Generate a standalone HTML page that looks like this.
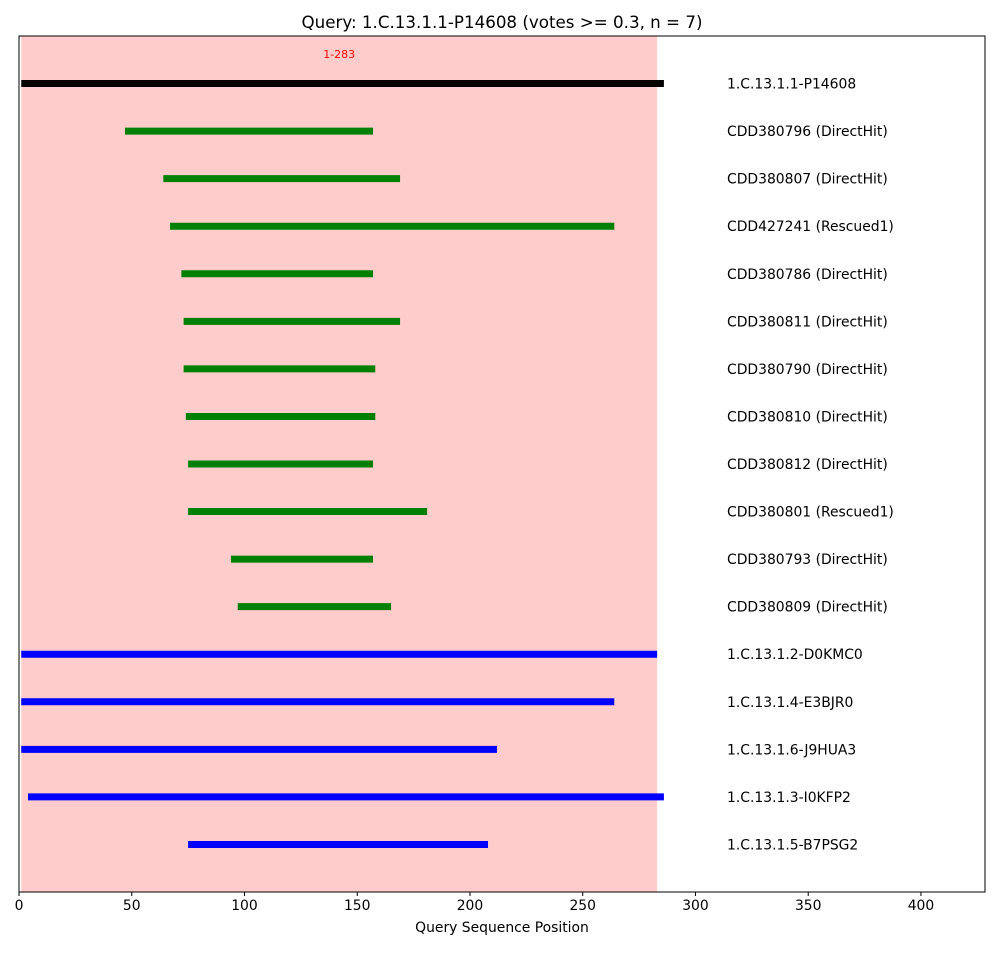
<!DOCTYPE html>
<html><head><meta charset="utf-8"><style>
body{margin:0;background:#fff;font-family:"DejaVu Sans","Liberation Sans",sans-serif;}
</style></head><body>
<svg id="chart" width="1000" height="950" xmlns="http://www.w3.org/2000/svg" font-family="DejaVu Sans, Liberation Sans, sans-serif"></svg>
<script>
const labels=["1.C.13.1.1-P14608","CDD380796 (DirectHit)","CDD380807 (DirectHit)","CDD427241 (Rescued1)","CDD380786 (DirectHit)","CDD380811 (DirectHit)","CDD380790 (DirectHit)","CDD380810 (DirectHit)","CDD380812 (DirectHit)","CDD380801 (Rescued1)","CDD380793 (DirectHit)","CDD380809 (DirectHit)","1.C.13.1.2-D0KMC0","1.C.13.1.4-E3BJR0","1.C.13.1.6-J9HUA3","1.C.13.1.3-I0KFP2","1.C.13.1.5-B7PSG2"];
const starts=[1,47,64,67,72,73,73,74,75,75,94,97,1,1,1,4,75];
const ends=[286,157,169,264,157,169,158,158,157,181,157,165,283,264,212,286,208];
const kinds=["query","cdd","cdd","cdd","cdd","cdd","cdd","cdd","cdd","cdd","cdd","cdd","hom","hom","hom","hom","hom"];
const region=[1,283];
const xTicks=[0,50,100,150,200,250,300,350,400];
const L=19,R=985,T=36,B=892,XMAX=428.4;
const xs=v=>L+v/XMAX*(R-L);
const ys=i=>T+(i+1)/18*(B-T);
const colors={query:"#000",cdd:"#008000",hom:"#0000ff"};
const svg=document.getElementById('chart');
const NS="http://www.w3.org/2000/svg";
function mk(t,a,txt){const e=document.createElementNS(NS,t);for(const k in a)e.setAttribute(k,a[k]);if(txt!=null)e.textContent=txt;svg.appendChild(e);return e;}
let e=mk('rect',{x:xs(region[0]),y:T,width:xs(region[1])-xs(region[0]),height:B-T,fill:"#ffcccc"});


e=mk('text',{x:xs((region[0]+region[1])/2),y:58,'font-size':11,fill:"red",'text-anchor':"middle"},region[0]+"-"+region[1]);


labels.forEach((lab,i)=>{
  let b=mk('line',{x1:xs(starts[i]),x2:xs(ends[i]),y1:ys(i),y2:ys(i),stroke:colors[kinds[i]],'stroke-width':7});
  
  
  let t=mk('text',{x:xs(314),y:ys(i)+5,'font-size':13.9,fill:"#000"},lab);
  
  
});
e=mk('rect',{x:L,y:T,width:R-L,height:B-T,fill:"none",stroke:"#000",'stroke-width':1});


xTicks.forEach(v=>{
  let l=mk('line',{x1:xs(v),x2:xs(v),y1:B,y2:B+4,stroke:"#000"});
  
  
  let t=mk('text',{x:xs(v),y:B+18,'font-size':13.9,'text-anchor':"middle"},v);
  
  
});
e=mk('text',{x:(L+R)/2,y:932,'font-size':13.9,'text-anchor':"middle"},"Query Sequence Position");


e=mk('text',{x:(L+R)/2,y:28,'font-size':16.7,'text-anchor':"middle"},"Query: 1.C.13.1.1-P14608 (votes >= 0.3, n = 7)");


</script>
</body></html>
